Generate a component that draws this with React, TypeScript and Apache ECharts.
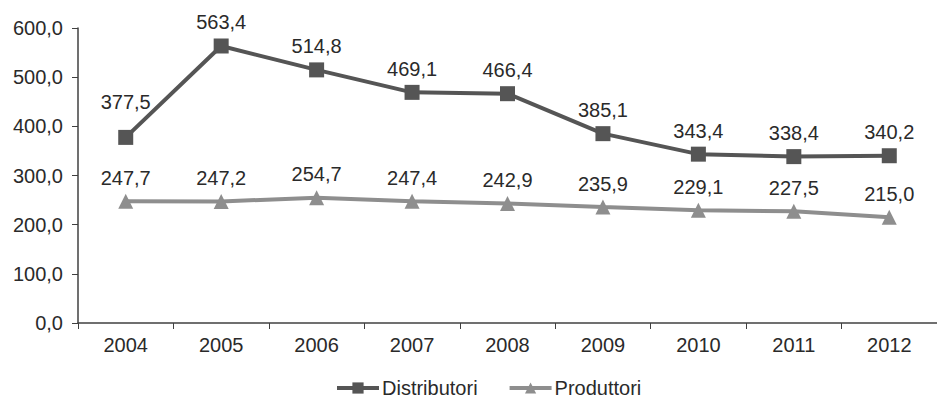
import React, { useEffect, useRef } from "react";
import * as echarts from "echarts";

const years = ["2004", "2005", "2006", "2007", "2008", "2009", "2010", "2011", "2012"];
const distributori = [377.5, 563.4, 514.8, 469.1, 466.4, 385.1, 343.4, 338.4, 340.2];
const produttori = [247.7, 247.2, 254.7, 247.4, 242.9, 235.9, 229.1, 227.5, 215.0];

const FONT = "'Liberation Sans', Arial, sans-serif";
const FS = 20;
const TXT = "#2a2a2a";
const fmt = (v: number) => v.toFixed(1).replace(".", ",");

export default function App() {
  const ref = useRef<HTMLDivElement>(null);
  useEffect(() => {
    if (!ref.current) return;
    const chart = echarts.init(ref.current, undefined, { renderer: "svg" });
    const label = {
      show: true,
      position: "top",
      distance: 6,
      fontFamily: FONT,
      fontSize: FS,
      color: TXT,
      formatter: (p: any) => fmt(p.value),
    };
    // first Distributori label sits a bit higher, clear of the rising segment
    const distData = distributori.map((v, i) =>
      i === 0 ? { value: v, label: { distance: 18 } } : v
    );
    chart.setOption({
      animation: false,
      textStyle: { fontFamily: FONT },
      grid: { left: 78, top: 28, width: 868, height: 295, containLabel: false },
      legend: {
        top: 373,
        left: 330,
        itemWidth: 42,
        itemHeight: 14,
        itemGap: 30,
        lineStyle: { width: 4 },
        textStyle: { fontFamily: FONT, fontSize: FS, color: TXT, padding: [0, 0, 0, -2] },
        data: ["Distributori", "Produttori"],
      },
      xAxis: {
        type: "category",
        data: years,
        boundaryGap: true,
        axisLine: { lineStyle: { color: "#404040", width: 1.5 } },
        axisTick: { show: true, length: 6, lineStyle: { color: "#404040" } },
        axisLabel: { fontFamily: FONT, fontSize: FS, color: TXT, margin: 12 },
      },
      yAxis: {
        type: "value",
        min: 0,
        max: 600,
        interval: 100,
        splitLine: { show: false },
        axisLine: { show: true, lineStyle: { color: "#404040", width: 1.5 } },
        axisTick: { show: true, length: 6, lineStyle: { color: "#404040" } },
        axisLabel: { fontFamily: FONT, fontSize: FS, color: TXT, margin: 15, formatter: (v: number) => fmt(v) },
      },
      series: [
        {
          name: "Distributori",
          type: "line",
          data: distData,
          symbol: "rect",
          symbolSize: 15,
          color: "#555555",
          lineStyle: { width: 4, color: "#555555" },
          itemStyle: { color: "#555555" },
          label,
        },
        {
          name: "Produttori",
          type: "line",
          data: produttori,
          symbol: "triangle",
          symbolSize: 15,
          color: "#8e8e8e",
          lineStyle: { width: 4, color: "#8e8e8e" },
          itemStyle: { color: "#8e8e8e" },
          label,
        },
      ],
    });
    return () => chart.dispose();
  }, []);
  return (
    <div
      ref={ref}
      style={{ position: "fixed", left: 0, top: 0, width: 937, height: 401, background: "#fff" }}
    />
  );
}
